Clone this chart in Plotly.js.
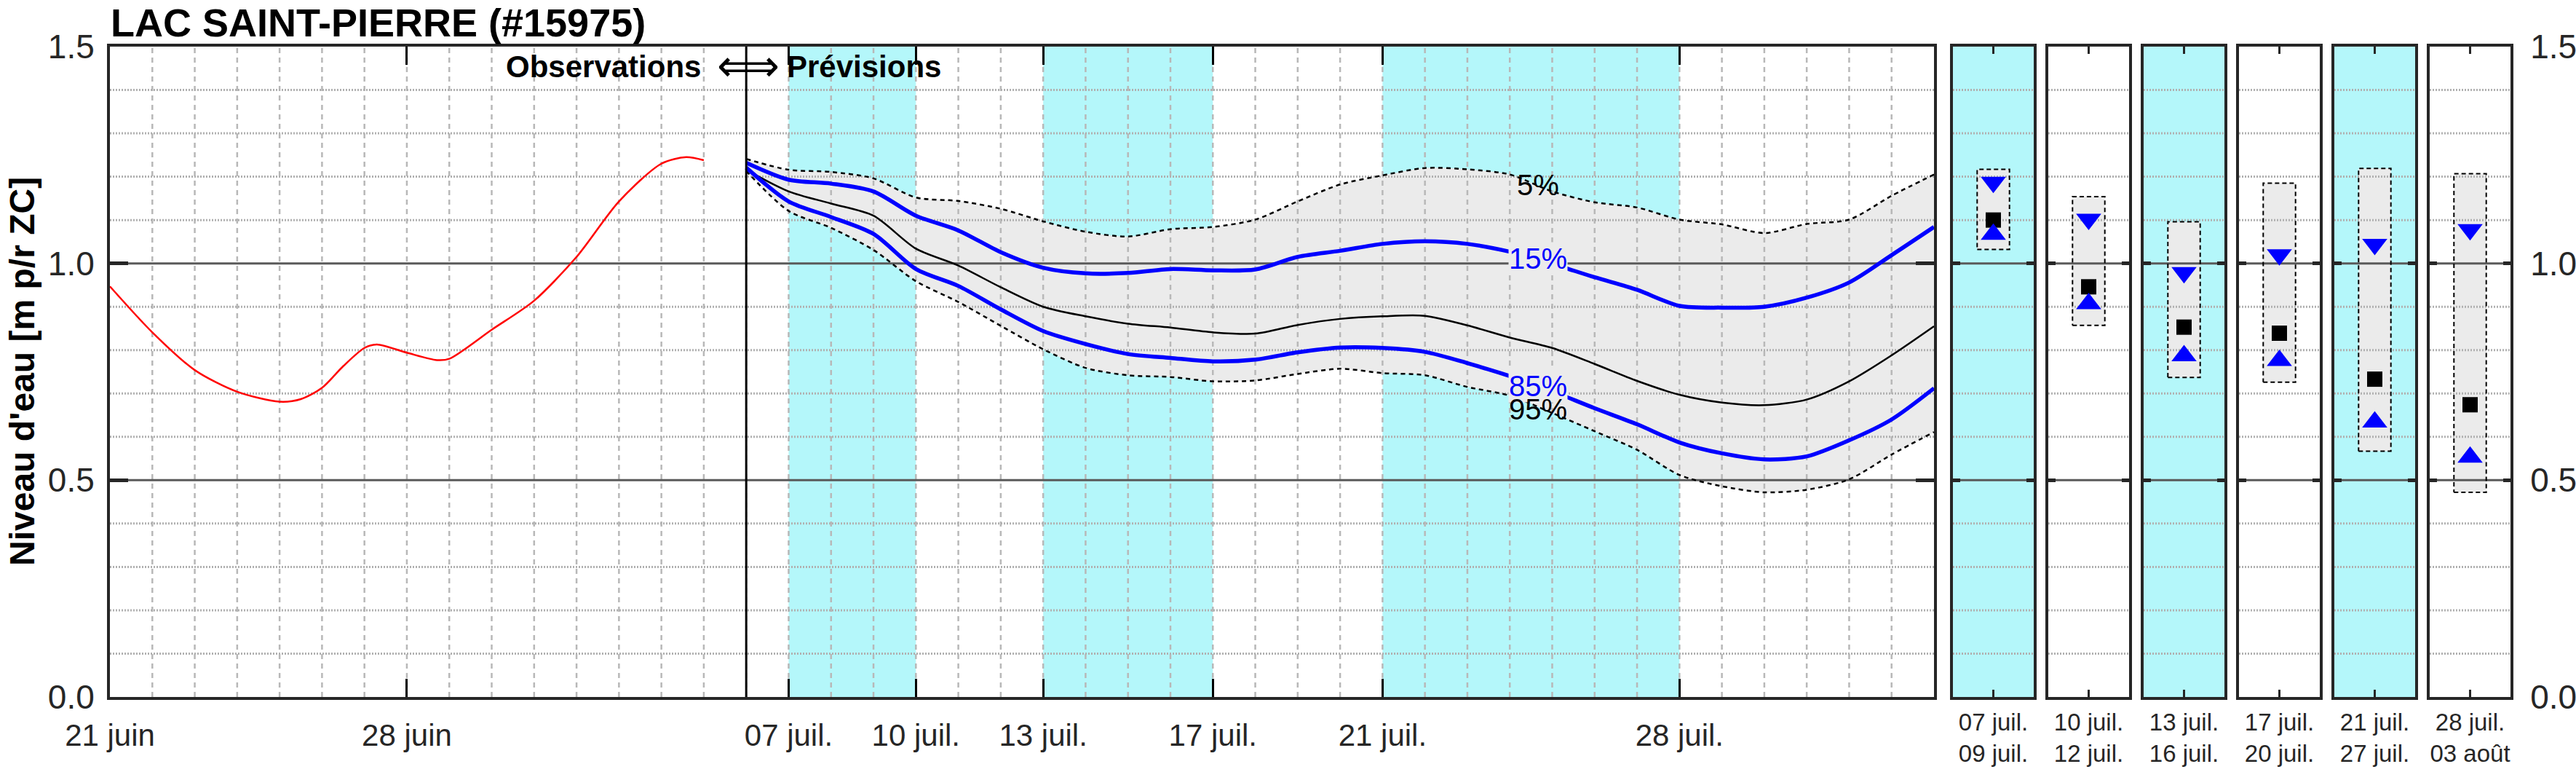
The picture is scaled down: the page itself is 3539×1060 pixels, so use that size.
<!DOCTYPE html>
<html><head><meta charset="utf-8">
<script src="https://cdn.plot.ly/plotly-3.0.1.min.js"></script>
<style>html,body{margin:0;padding:0;background:#fff;}#chart{width:3539px;height:1060px;}</style>
</head><body><div id="chart"></div>
<script>
// ---------------- DATA ----------------
const stationTitle = 'LAC SAINT-PIERRE (#15975)';
const yTitle = "Niveau d'eau [m p/r ZC]";
const xRange = ['2023-06-21', '2023-08-03'];
const yRange = [0, 1.5];
const forecastStart = '2023-07-06';

const mainTickDates = ['2023-06-21','2023-06-28','2023-07-07','2023-07-10','2023-07-13','2023-07-17','2023-07-21','2023-07-28'];
const mainTickLabels = ['21 juin','28 juin','07 juil.','10 juil.','13 juil.','17 juil.','21 juil.','28 juil.'];
const yTickVals = [0, 0.5, 1.0, 1.5];
const yTickLabels = ['0.0','0.5','1.0','1.5'];

// observed water level
const obsDates = ['2023-06-21 00:00','2023-06-22 00:00','2023-06-23 00:00','2023-06-24 00:00','2023-06-25 00:00','2023-06-25 12:00',
  '2023-06-26 00:00','2023-06-26 12:00','2023-06-27 00:00','2023-06-27 07:00','2023-06-28 00:00','2023-06-28 17:00','2023-06-29 00:00',
  '2023-06-30 00:00','2023-07-01 00:00','2023-07-02 00:00','2023-07-03 00:00','2023-07-04 00:00','2023-07-04 14:00','2023-07-05 00:00'];
const obsLevel = [0.947,0.841,0.754,0.704,0.681,0.687,0.713,0.763,0.805,0.813,0.794,0.777,0.780,0.847,0.914,1.015,1.143,1.230,1.245,1.238];

// forecast percentiles (daily)
const fcDates = ['2023-07-06','2023-07-07','2023-07-08','2023-07-09','2023-07-10','2023-07-11','2023-07-12','2023-07-13','2023-07-14',
  '2023-07-15','2023-07-16','2023-07-17','2023-07-18','2023-07-19','2023-07-20','2023-07-21','2023-07-22','2023-07-23','2023-07-24',
  '2023-07-25','2023-07-26','2023-07-27','2023-07-28','2023-07-29','2023-07-30','2023-07-31','2023-08-01','2023-08-02','2023-08-03'];
const fcP05 = [1.241,1.216,1.211,1.196,1.152,1.144,1.126,1.097,1.073,1.062,1.079,1.084,1.101,1.143,1.182,1.203,1.220,1.217,1.205,
  1.166,1.141,1.129,1.101,1.090,1.070,1.091,1.101,1.156,1.205];
const fcP15 = [1.232,1.193,1.184,1.166,1.110,1.076,1.026,0.990,0.977,0.978,0.987,0.984,0.986,1.015,1.029,1.045,1.051,1.045,1.027,
  0.999,0.968,0.939,0.902,0.898,0.900,0.921,0.956,1.019,1.084];
const fcP50 = [1.216,1.166,1.138,1.110,1.034,0.995,0.945,0.900,0.878,0.861,0.852,0.841,0.838,0.858,0.872,0.878,0.879,0.857,0.829,
  0.805,0.768,0.729,0.697,0.679,0.673,0.686,0.728,0.788,0.855];
const fcP85 = [1.221,1.143,1.107,1.068,0.987,0.948,0.894,0.844,0.814,0.791,0.782,0.774,0.778,0.795,0.806,0.805,0.796,0.770,0.740,
  0.705,0.666,0.629,0.587,0.562,0.548,0.555,0.592,0.640,0.712];
const fcP95 = [1.213,1.121,1.082,1.031,0.959,0.911,0.856,0.802,0.759,0.742,0.738,0.728,0.730,0.745,0.757,0.747,0.742,0.715,0.695,
  0.655,0.613,0.570,0.512,0.486,0.472,0.478,0.502,0.559,0.611];

// percentile labels
const pctLabels = ['5%','15%','85%','95%'];
const pctLabelDate = '2023-07-24 16:00';
const pctLabelLevel = [1.181, 1.012, 0.718, 0.664];

// periods (right panels)
const periodStartLabels = ['07 juil.','10 juil.','13 juil.','17 juil.','21 juil.','28 juil.'];
const periodEndLabels = ['09 juil.','12 juil.','16 juil.','20 juil.','27 juil.','03 août'];
const periodStartDates = ['2023-07-07','2023-07-10','2023-07-13','2023-07-17','2023-07-21','2023-07-28'];
const periodEndDates = ['2023-07-10','2023-07-13','2023-07-17','2023-07-21','2023-07-28','2023-08-04'];
const periodShaded = [true,false,true,false,true,false];
const wkP05 = [1.217,1.154,1.096,1.185,1.219,1.207];
const wkP15 = [1.187,1.102,0.979,1.020,1.044,1.078];
const wkP50 = [1.100,0.946,0.853,0.839,0.733,0.674];
const wkP85 = [1.067,0.907,0.787,0.776,0.634,0.553];
const wkP95 = [1.032,0.857,0.737,0.726,0.567,0.472];

// ---------------- STYLE / LAYOUT ----------------
const W = 3539, H = 1060;
const FONT = 'Liberation Sans, Arial, Helvetica, sans-serif';
const CYAN = '#b4f7fa', FILL = '#ebebeb', FRAME = '#262626', TXT = '#262626';
const GRID_DOT = '#b0b0b0', GRID_DASH = '#b8b8b8', MAJOR = '#5a5a5a';
const yDom = [1 - 957 / H, 1 - 64 / H];
const mainDom = [151 / W, 2657 / W];
const panelLeft = [2683, 2814, 2945, 3076, 3207, 3338], panelW = 111;
const boxHalf = 0.2;

const traces = [];
const shapes = [];
const annotations = [];

// cyan bands in main
periodStartDates.forEach((s, i) => {
  if (!periodShaded[i]) return;
  shapes.push({type:'rect', xref:'x', yref:'y domain', x0:s, x1:periodEndDates[i], y0:0, y1:1,
    fillcolor:CYAN, line:{width:0}, layer:'below'});
});
// cyan panels
periodShaded.forEach((sh, i) => {
  if (!sh) return;
  const ax = 'x' + (i + 2);
  shapes.push({type:'rect', xref:ax + ' domain', yref:'y' + (i + 2) + ' domain', x0:0, x1:1, y0:0, y1:1,
    fillcolor:CYAN, line:{width:0}, layer:'below'});
});

// forecast envelope fill
traces.push({x:fcDates, y:fcP95, mode:'lines', line:{width:0, shape:'spline', smoothing:0.8}, hoverinfo:'skip'});
traces.push({x:fcDates, y:fcP05, mode:'lines', fill:'tonexty', fillcolor:FILL, line:{width:0, shape:'spline', smoothing:0.8}, hoverinfo:'skip'});

// panel box fills
for (let i = 0; i < 6; i++) {
  traces.push({x:[0.5-boxHalf,0.5+boxHalf,0.5+boxHalf,0.5-boxHalf,0.5-boxHalf], y:[wkP95[i],wkP95[i],wkP05[i],wkP05[i],wkP95[i]],
    xaxis:'x'+(i+2), yaxis:'y'+(i+2), mode:'lines', fill:'toself', fillcolor:FILL, line:{width:0}, hoverinfo:'skip'});
}

// grid traces (drawn above fills)
const dayMs = 86400000;
const t0 = Date.parse(xRange[0] + 'T00:00:00Z'), t1 = Date.parse(xRange[1] + 'T00:00:00Z');
const vx = [], vy = [];
for (let t = t0 + dayMs; t < t1; t += dayMs) {
  const s = new Date(t).toISOString().slice(0, 10);
  vx.push(s, s, null); vy.push(yRange[0], yRange[1], null);
}
traces.push({x:vx, y:vy, mode:'lines', line:{color:GRID_DASH, width:2.5, dash:'7px,6px'}, hoverinfo:'skip'});
function hGrid(xa, ya, x0, x1) {
  const hx = [], hy = [], mx = [], my = [];
  for (let k = 1; k < 15; k++) {
    const v = k / 10;
    if (k % 5 === 0) { mx.push(x0, x1, null); my.push(v, v, null); }
    else { hx.push(x0, x1, null); hy.push(v, v, null); }
  }
  traces.push({x:hx, y:hy, xaxis:xa, yaxis:ya, mode:'lines', line:{color:GRID_DOT, width:3, dash:'2px,2px'}, hoverinfo:'skip'});
  traces.push({x:mx, y:my, xaxis:xa, yaxis:ya, mode:'lines', line:{color:MAJOR, width:3}, hoverinfo:'skip'});
}
hGrid('x', 'y', xRange[0], xRange[1]);
for (let i = 0; i < 6; i++) hGrid('x' + (i + 2), 'y' + (i + 2), 0, 1);

// panel box outlines
for (let i = 0; i < 6; i++) {
  traces.push({x:[0.5-boxHalf,0.5+boxHalf,0.5+boxHalf,0.5-boxHalf,0.5-boxHalf], y:[wkP95[i],wkP95[i],wkP05[i],wkP05[i],wkP95[i]],
    xaxis:'x'+(i+2), yaxis:'y'+(i+2), mode:'lines', line:{color:'#000', width:2, dash:'6px,4px'}, hoverinfo:'skip'});
}

// main forecast lines
const sp = {shape:'spline', smoothing:0.8};
traces.push({x:fcDates, y:fcP05, mode:'lines', line:Object.assign({color:'#000', width:2.5, dash:'6px,5px'}, sp)});
traces.push({x:fcDates, y:fcP95, mode:'lines', line:Object.assign({color:'#000', width:2.5, dash:'6px,5px'}, sp)});
traces.push({x:fcDates, y:fcP50, mode:'lines', line:Object.assign({color:'#000', width:2.5}, sp)});
traces.push({x:fcDates, y:fcP15, mode:'lines', line:Object.assign({color:'#0000ff', width:5.5}, sp)});
traces.push({x:fcDates, y:fcP85, mode:'lines', line:Object.assign({color:'#0000ff', width:5.5}, sp)});
traces.push({x:obsDates, y:obsLevel, mode:'lines', line:Object.assign({color:'#ff0000', width:2.5}, sp)});
traces.push({x:[forecastStart, forecastStart], y:yRange, mode:'lines', line:{color:'#000', width:3}});

// panel markers
for (let i = 0; i < 6; i++) {
  const xa = 'x' + (i + 2), ya = 'y' + (i + 2);
  traces.push({x:[0.5], y:[wkP50[i]], xaxis:xa, yaxis:ya, mode:'markers', marker:{symbol:'square', size:21, color:'#000'}});
  traces.push({x:[0.5], y:[wkP15[i]], xaxis:xa, yaxis:ya, mode:'markers', marker:{symbol:'triangle-down', size:30, color:'#0000ff'}});
  traces.push({x:[0.5], y:[wkP85[i]], xaxis:xa, yaxis:ya, mode:'markers', marker:{symbol:'triangle-up', size:30, color:'#0000ff'}});
}

// annotations
annotations.push({xref:'paper', yref:'paper', x:151 / W, y:1, xanchor:'left', yanchor:'top', showarrow:false, borderpad:0,
  text:'<b>' + stationTitle + '</b>', font:{family:FONT, size:54, color:'#000'}});
annotations.push({xref:'paper', yref:'paper', x:30 / W, y:1 - 510 / H, xanchor:'center', yanchor:'middle', showarrow:false,
  textangle:-90, text:'<b>' + yTitle + '</b>', font:{family:FONT, size:48, color:'#000'}});
annotations.push({xref:'x', yref:'paper', x:forecastStart, xshift:-60, y:1 - 92 / H, xanchor:'right', yanchor:'middle', showarrow:false,
  text:'<b>Observations</b>', font:{family:FONT, size:42, color:'#000'}});
annotations.push({xref:'x', yref:'paper', x:forecastStart, xshift:3, y:1 - 90 / H, xanchor:'center', yanchor:'middle', showarrow:false,
  text:'\u27FA', font:{family:'DejaVu Sans, sans-serif', size:60, color:'#000'}});
annotations.push({xref:'x', yref:'paper', x:forecastStart, xshift:54, y:1 - 92 / H, xanchor:'left', yanchor:'middle', showarrow:false,
  text:'<b>Prévisions</b>', font:{family:FONT, size:42, color:'#000'}});
const pctColors = ['#000', '#0000ff', '#0000ff', '#000'];
const pctBg = ['rgba(0,0,0,0)', FILL, FILL, 'rgba(0,0,0,0)'];
pctLabels.forEach((t, i) => {
  annotations.push({xref:'x', yref:'y', x:pctLabelDate, y:pctLabelLevel[i], xanchor:'center', yanchor:'middle', showarrow:false,
    text:t, bgcolor:pctBg[i], borderpad:0, font:{family:FONT, size:40, color:pctColors[i]}});
});

const layout = {
  width:W, height:H, margin:{l:0, r:0, t:0, b:0}, paper_bgcolor:'#fff', plot_bgcolor:'rgba(0,0,0,0)', showlegend:false,
  font:{family:FONT, color:TXT},
  shapes:shapes, annotations:annotations,
  xaxis:{type:'date', domain:mainDom, range:xRange, anchor:'y', tickvals:mainTickDates, ticktext:mainTickLabels,
    ticks:'inside', ticklen:25, tickwidth:3, tickcolor:'#000', showline:true, linewidth:4, linecolor:FRAME, mirror:'ticks',
    showgrid:false, zeroline:false, tickfont:{size:42, color:TXT}, ticklabelstandoff:13},
  yaxis:{domain:yDom, range:yRange, anchor:'x', tickvals:yTickVals, ticktext:yTickLabels,
    ticks:'inside', ticklen:25, tickwidth:5, tickcolor:FRAME, showline:true, linewidth:4, linecolor:FRAME, mirror:'ticks',
    showgrid:false, zeroline:false, tickfont:{size:46, color:TXT}, ticklabelstandoff:8}
};
for (let i = 0; i < 6; i++) {
  const n = i + 2;
  layout['xaxis' + n] = {domain:[panelLeft[i] / W, (panelLeft[i] + panelW) / W], range:[0, 1], anchor:'y' + n,
    tickvals:[0.5], ticktext:[periodStartLabels[i] + '<br>' + periodEndLabels[i]],
    ticks:'inside', ticklen:10, tickwidth:3, tickcolor:FRAME, showline:true, linewidth:4, linecolor:FRAME, mirror:'ticks',
    showgrid:false, zeroline:false, tickfont:{size:33, color:TXT}, ticklabelstandoff:2};
  layout['yaxis' + n] = {domain:yDom, range:yRange, anchor:'x' + n, tickvals:yTickVals, ticktext:yTickLabels,
    ticks:'inside', ticklen:10, tickwidth:5, tickcolor:FRAME, showline:true, linewidth:4, linecolor:FRAME, mirror:'ticks',
    showgrid:false, zeroline:false, showticklabels:(i === 5), side:(i === 5 ? 'right' : 'left'),
    tickfont:{size:46, color:TXT}, ticklabelstandoff:14};
}
Plotly.newPlot('chart', traces, layout, {staticPlot:true});
</script></body></html>
